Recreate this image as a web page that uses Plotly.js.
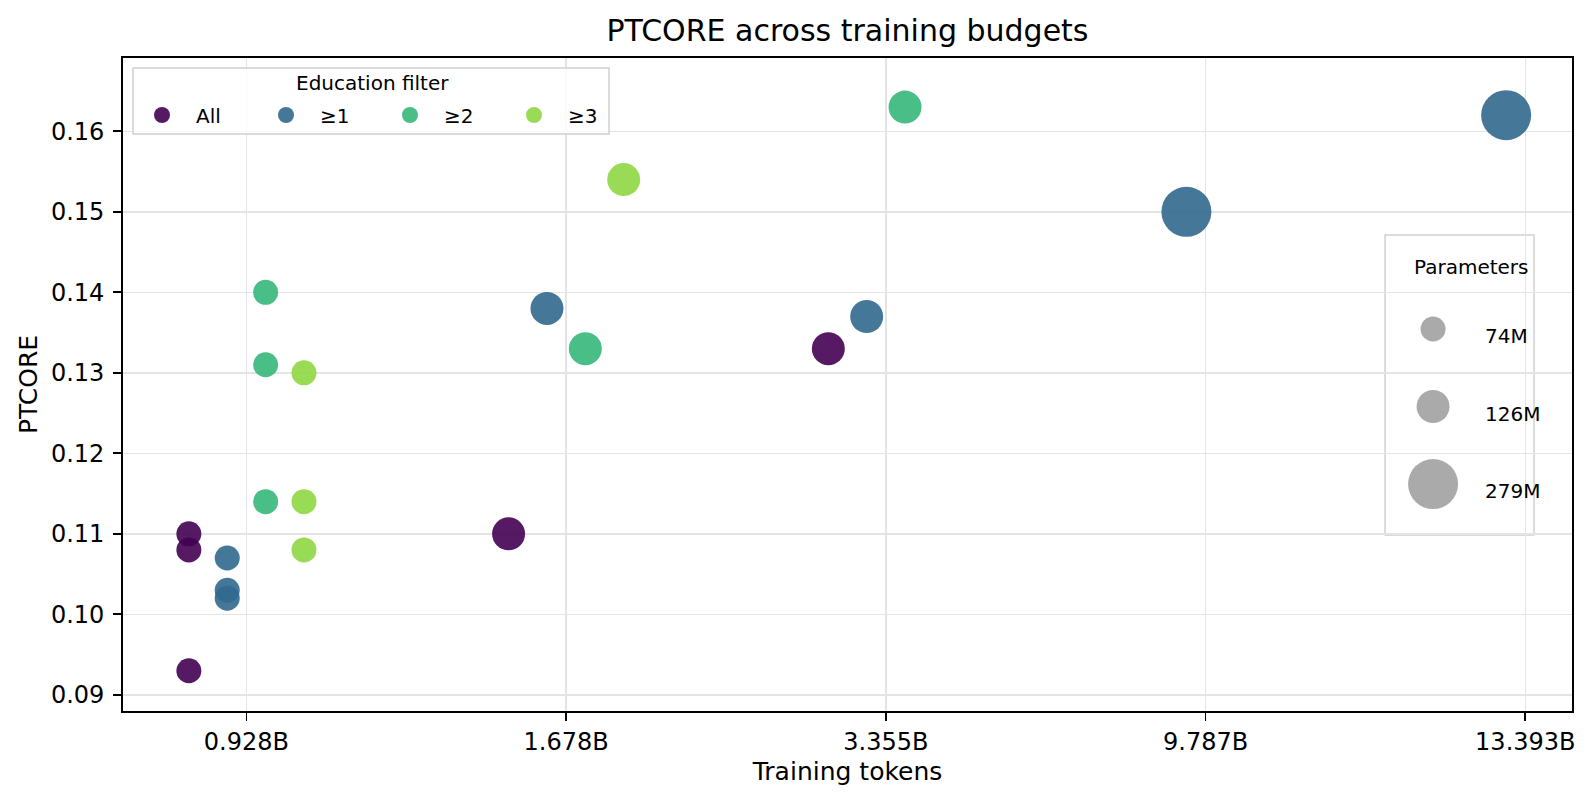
<!DOCTYPE html>
<html>
<head>
<meta charset="utf-8">
<script src="https://cdn.plot.ly/plotly-3.0.1.min.js"></script>
<style>
  html, body { margin: 0; padding: 0; background: #fff; }
  #chart { width: 1593px; height: 804px; }
</style>
</head>
<body>
<div id="chart"></div>
<script>
// training budgets shown on the x axis
var tokenLabels = ['0.928B', '1.678B', '3.355B', '9.787B', '13.393B'];

// education filter groups
var groupNames = ['All', '\u22651', '\u22652', '\u22653'];
var groupColors = ['#440154', '#31688e', '#35b779', '#8fd744'];

// runs per group
var allTokens = ['0.928B', '0.928B', '0.928B', '1.678B', '3.355B'];
var allScore  = [0.110, 0.108, 0.093, 0.110, 0.133];
var allParams = [74, 74, 74, 126, 126];

var ge1Tokens = ['0.928B', '0.928B', '0.928B', '1.678B', '3.355B', '9.787B', '13.393B'];
var ge1Score  = [0.107, 0.103, 0.102, 0.138, 0.137, 0.150, 0.162];
var ge1Params = [74, 74, 74, 126, 126, 279, 279];

var ge2Tokens = ['0.928B', '0.928B', '0.928B', '1.678B', '3.355B'];
var ge2Score  = [0.140, 0.131, 0.114, 0.133, 0.163];
var ge2Params = [74, 74, 74, 126, 126];

var ge3Tokens = ['0.928B', '0.928B', '0.928B', '1.678B'];
var ge3Score  = [0.130, 0.114, 0.108, 0.154];
var ge3Params = [74, 74, 74, 126];

// size legend
var paramValues = [74, 126, 279];
var paramLabels = ['74M', '126M', '279M'];

// marker diameter (px) per model size
var markerPx = {74: 25, 126: 33, 279: 50};
var groupStep = 0.12;
var font = 'DejaVu Sans, Liberation Sans, sans-serif';

var groupTokens = [allTokens, ge1Tokens, ge2Tokens, ge3Tokens];
var groupScore = [allScore, ge1Score, ge2Score, ge3Score];
var groupParams = [allParams, ge1Params, ge2Params, ge3Params];

var data = [];
for (var g = 0; g < groupNames.length; g++) {
  var off = (g - 1.5) * groupStep;
  data.push({
    type: 'scatter',
    mode: 'markers',
    name: groupNames[g],
    x: groupTokens[g].map(function (t) { return tokenLabels.indexOf(t) + off; }),
    y: groupScore[g],
    marker: {
      color: groupColors[g],
      size: groupParams[g].map(function (p) { return markerPx[p]; }),
      opacity: 0.9,
      line: {width: 0}
    },
    hoverinfo: 'skip'
  });
}

// size legend drawn in its own small axes
data.push({
  type: 'scatter',
  mode: 'markers',
  xaxis: 'x2',
  yaxis: 'y2',
  x: paramValues.map(function () { return 0; }),
  y: paramValues.map(function (p, i) { return i; }),
  marker: {
    color: '#aaaaaa',
    opacity: 1,
    size: paramValues.map(function (p) { return markerPx[p]; }),
    line: {width: 0}
  },
  showlegend: false,
  hoverinfo: 'skip'
});

var annotations = paramLabels.map(function (lab, i) {
  return {
    xref: 'x2', yref: 'y2', x: 1, y: i,
    text: lab, showarrow: false,
    xanchor: 'left', yanchor: 'middle', yshift: -7,
    font: {family: font, size: 20, color: '#000'}
  };
});
annotations.push({
  xref: 'paper', yref: 'paper', x: 0.9303, y: 0.68,
  text: 'Parameters', showarrow: false,
  xanchor: 'center', yanchor: 'middle',
  font: {family: font, size: 20, color: '#000'}
});
annotations.push({
  xref: 'paper', yref: 'paper', x: 0.172, y: 0.962,
  text: 'Education filter', showarrow: false,
  xanchor: 'center', yanchor: 'middle',
  font: {family: font, size: 20, color: '#000'}
});

var layout = {
  width: 1593,
  height: 804,
  margin: {l: 123, r: 21, t: 58, b: 93},
  paper_bgcolor: '#ffffff',
  plot_bgcolor: 'rgba(0,0,0,0)',
  font: {family: font, color: '#000'},
  title: {
    text: 'PTCORE across training budgets',
    font: {family: font, size: 30, color: '#000'},
    x: 0.5, xref: 'paper', xanchor: 'center',
    y: 0.962, yref: 'container', yanchor: 'middle'
  },
  xaxis: {
    range: [-0.386, 4.146],
    tickvals: tokenLabels.map(function (t, i) { return i; }),
    ticktext: tokenLabels,
    showgrid: true, gridcolor: '#e4e4e4', gridwidth: 1.5,
    zeroline: false,
    showline: true, linecolor: '#000', linewidth: 1.8, mirror: true,
    ticks: 'outside', ticklen: 8, tickwidth: 1.8, tickcolor: '#000',
    ticklabelstandoff: 0,
    tickfont: {family: font, size: 24, color: '#000'},
    title: {text: 'Training tokens', font: {family: font, size: 25, color: '#000'}, standoff: 8}
  },
  yaxis: {
    range: [0.0880, 0.1691],
    tickvals: [0.09, 0.10, 0.11, 0.12, 0.13, 0.14, 0.15, 0.16],
    ticktext: ['0.09', '0.10', '0.11', '0.12', '0.13', '0.14', '0.15', '0.16'],
    showgrid: true, gridcolor: '#e4e4e4', gridwidth: 1.5,
    zeroline: false,
    showline: true, linecolor: '#000', linewidth: 1.8, mirror: true,
    ticks: 'outside', ticklen: 8, tickwidth: 1.8, tickcolor: '#000',
    ticklabelstandoff: 4,
    tickfont: {family: font, size: 24, color: '#000'},
    title: {text: 'PTCORE', font: {family: font, size: 25, color: '#000'}, standoff: 6}
  },
  xaxis2: {
    domain: [0.871, 0.9738], anchor: 'y2',
    range: [-0.96, 2.02], visible: false, fixedrange: true
  },
  yaxis2: {
    domain: [0.2695, 0.7289], anchor: 'x2',
    range: [2.658, -1.213], visible: false, fixedrange: true
  },
  shapes: [{
    // size legend frame
    type: 'rect', xref: 'paper', yref: 'paper',
    x0: 0.871, x1: 0.9738, y0: 0.2695, y1: 0.7289,
    line: {color: '#d0d0d0', width: 1.5},
    fillcolor: 'rgba(255,255,255,0.8)',
    layer: 'below'
  }, {
    // colour legend frame
    type: 'rect', xref: 'paper', yref: 'paper',
    x0: 0.0069, x1: 0.3354, y0: 0.8836, y1: 0.9847,
    line: {color: '#d0d0d0', width: 1.5},
    fillcolor: 'rgba(255,255,255,0.8)',
    layer: 'above'
  }],
  annotations: annotations,
  legend: {
    orientation: 'h',
    x: 0.00345, y: 0.9127, xanchor: 'left', yanchor: 'middle',
    bgcolor: 'rgba(0,0,0,0)',
    borderwidth: 0,
    font: {family: font, size: 20, color: '#000'},
    itemsizing: 'trace',
    itemwidth: 58,
    entrywidth: 51,
    entrywidthmode: 'pixels',
    traceorder: 'normal'
  },
  hovermode: false,
  showlegend: true
};

Plotly.newPlot('chart', data, layout, {displayModeBar: false, staticPlot: true});
</script>
</body>
</html>
